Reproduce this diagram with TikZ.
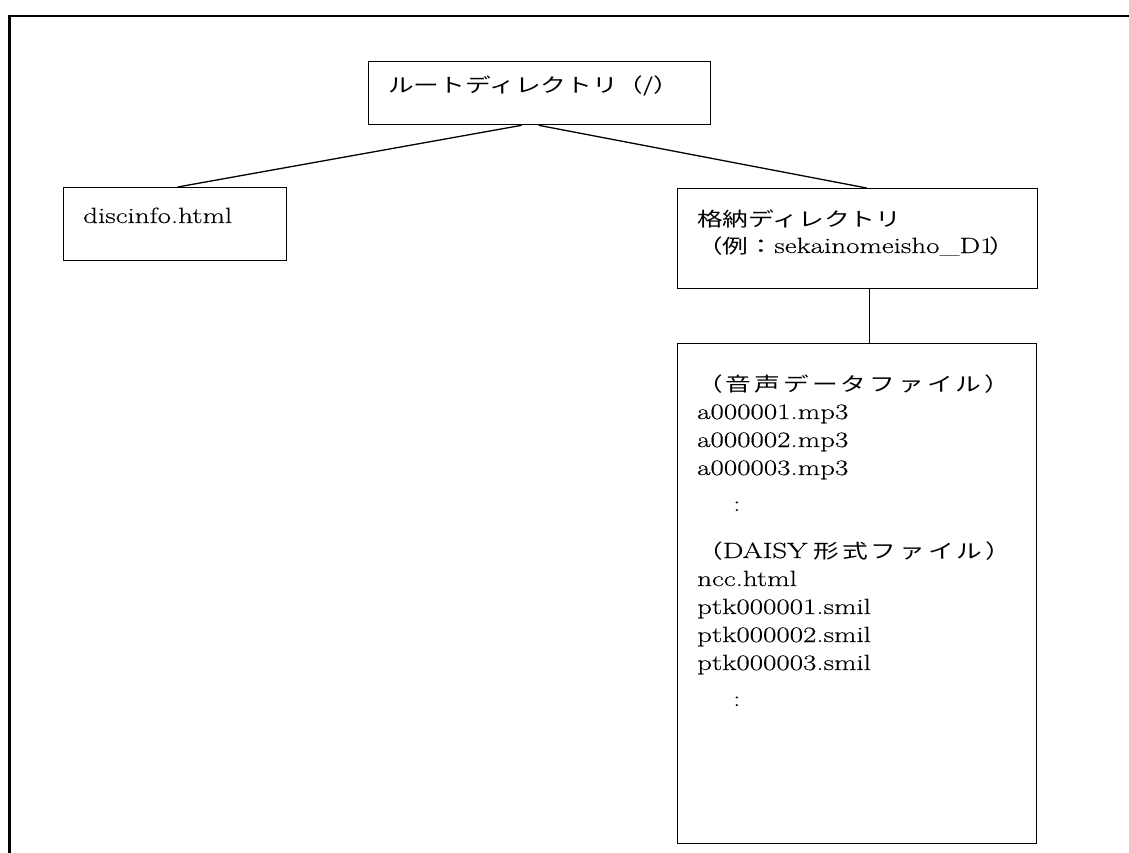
\documentclass[tikz,border=0pt]{standalone}
\usepackage{fontspec}
\setmainfont{Latin Modern Roman}[FakeStretch=1.32,FakeBold=0.35]
\newfontfamily\jpf{Noto Sans CJK JP}[FakeStretch=1.32,Scale=0.886]
\newlength\jgap
\def\jspaceloop#1{\ifx#1\relax\else#1\hspace{\jgap}\expandafter\jspaceloop\fi}
\newcommand\jspaced[2]{{\setlength\jgap{#1}\jpf\jspaceloop#2\relax}}
\begin{document}
\begin{tikzpicture}[x=1pt,y=-1pt,
  box/.style={draw,line width=1.3pt,inner sep=0pt,anchor=north west},
  txt/.style={inner sep=0pt,anchor=base west,font=\fontsize{22}{28}\selectfont},
  link/.style={line width=1.3pt}]
\useasboundingbox (0,0) rectangle (1129,853);
% outer frame (top and left only)
\draw[line width=2.6pt] (9.5,853) -- (9.5,16) -- (1129,16);
% boxes
\node[box,minimum width=342pt,minimum height=63pt] (root) at (368,61) {};
\node[box,minimum width=223pt,minimum height=73pt] (disc) at (63,187) {};
\node[box,minimum width=360pt,minimum height=100pt] (store) at (677,188) {};
\node[box,minimum width=359pt,minimum height=500pt] (files) at (677,343) {};
% texts
\node[txt] (troot) at (388,93) {{\jpf ルートディレクトリ（/）}};
\node[txt] (tdisc) at (83,223) {discinfo.html};
\node[txt] (tstore) at (697,226) {{\jpf 格納ディレクトリ}};
\node[txt] (tex) at (697,253) {{\jpf （例：}sekainomeisho\_D1\hspace{-4pt}{\jpf ）}};
\node[txt] (f1) at (697,391) {\jspaced{3pt}{（音声データファイル}{\jpf ）}};
\node[txt] (f2) at (697,419) {a000001.mp3};
\node[txt] (f3) at (697,447) {a000002.mp3};
\node[txt] (f4) at (697,475) {a000003.mp3};
\node[txt] (f5) at (733,511) {:};
\node[txt] (f6) at (697,558) {{\jpf （}DAISY\hspace{6pt}\jspaced{3pt}{形式ファイル}{\jpf ）}};
\node[txt] (f7) at (697,586) {ncc.html};
\node[txt] (f8) at (697,614) {ptk000001.smil};
\node[txt] (f9) at (697,642) {ptk000002.smil};
\node[txt] (f10) at (697,670) {ptk000003.smil};
\node[txt] (f11) at (733,706) {:};
% connectors
\draw[link] ([xshift=-18pt]root.south) -- ([xshift=2.5pt]disc.north);
\draw[link] ([xshift=-1pt]root.south) -- ([xshift=9pt]store.north);
\draw[link] ([xshift=12pt]store.south) -- ([xshift=12.5pt]files.north);
\end{tikzpicture}
\end{document}
